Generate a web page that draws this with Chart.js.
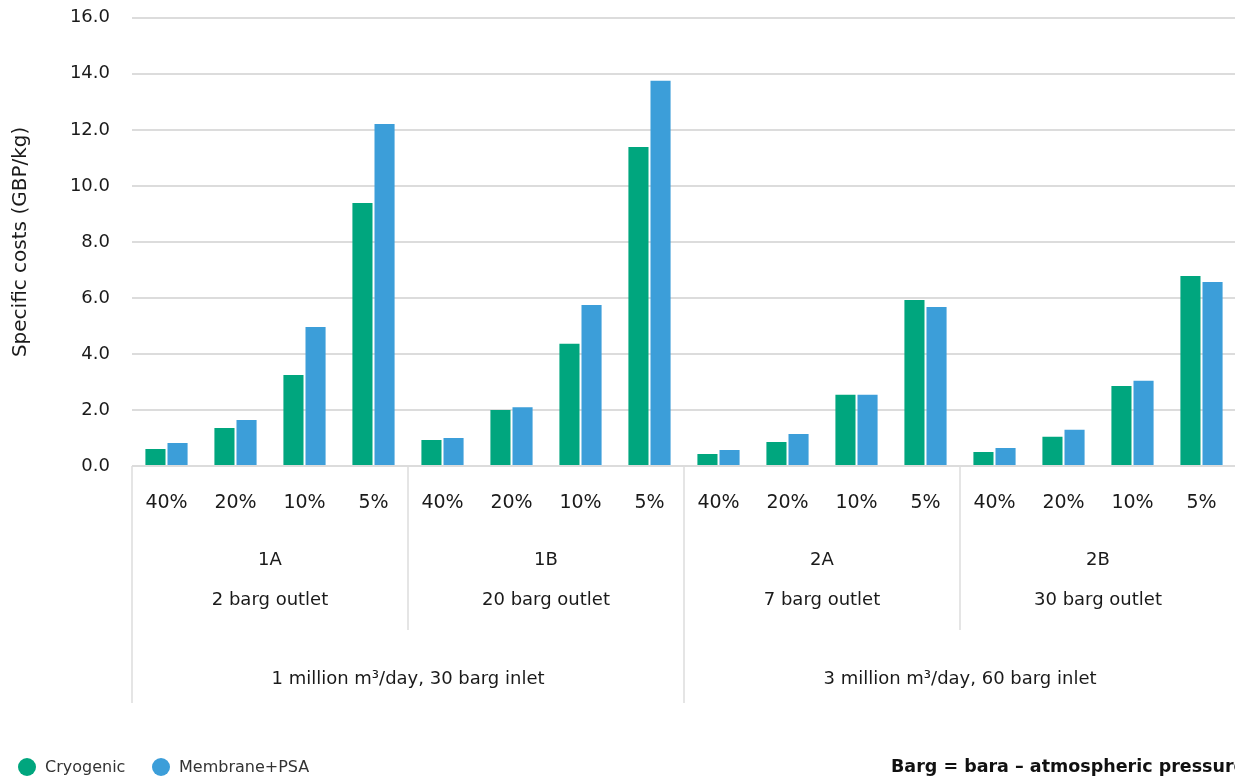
<!DOCTYPE html>
<html>
<head>
<meta charset="utf-8">
<script src="https://cdn.jsdelivr.net/npm/chart.js@4/dist/chart.umd.min.js"></script>
<style>
    html, body { margin: 0; padding: 0; background: #fff; overflow: hidden; }
    #wrap { width: 1236px; height: 778px; position: relative; }
</style>
</head>
<body>
<div id="wrap"><canvas id="chart"></canvas></div>
<script>
// categories
var shares = ['40%', '20%', '10%', '5%', '40%', '20%', '10%', '5%',
              '40%', '20%', '10%', '5%', '40%', '20%', '10%', '5%'];
var cases = ['1A', '1B', '2A', '2B'];
var outlets = ['2 barg outlet', '20 barg outlet', '7 barg outlet', '30 barg outlet'];
var inlets = ['1 million m\u00b3/day, 30 barg inlet', '3 million m\u00b3/day, 60 barg inlet'];

// series (GBP/kg)
var cryogenic = [0.61, 1.36, 3.25, 9.39, 0.93, 2.0, 4.36, 11.39,
                 0.43, 0.86, 2.54, 5.93, 0.5, 1.04, 2.86, 6.78];
var membranePsa = [0.82, 1.64, 4.96, 12.21, 1.0, 2.1, 5.75, 13.75,
                   0.57, 1.14, 2.54, 5.68, 0.64, 1.29, 3.04, 6.57];

var seriesNames = ['Cryogenic', 'Membrane+PSA'];
var seriesColors = ['#00a67e', '#3c9ed9'];
var note = 'Barg = bara \u2013 atmospheric pressure';

var FONT = '"DejaVu Sans", Arial, sans-serif';
var TEXT = '#1a1a1a';
var LINE = '#dcdcdc';
var CLEAR = 'rgba(0,0,0,0)';

/**
 * draws the grouped x labels, separators and legend
 */
var groupAxis = {
    id: 'groupAxis',
    afterDraw: function (chart) {
        var ctx = chart.ctx;
        var x = chart.scales.x;
        var bottom = chart.chartArea.bottom;
        var w = (x.right - x.left) / shares.length;
        var edge = function (i) { return x.left + i * w; };

        ctx.save();
        ctx.strokeStyle = LINE;
        ctx.lineWidth = 1.5;
        [0, 4, 8, 12, 16].forEach(function (i) {
            var end = (i % 8 === 0) ? 703 : 630;
            ctx.beginPath();
            ctx.moveTo(edge(i), bottom);
            ctx.lineTo(edge(i), end);
            ctx.stroke();
        });

        ctx.fillStyle = TEXT;
        ctx.textAlign = 'center';
        ctx.textBaseline = 'middle';
        ctx.font = '18px ' + FONT;
        cases.forEach(function (c, i) {
            var cx = (edge(i * 4) + edge(i * 4 + 4)) / 2;
            ctx.fillText(c, cx, 560);
            ctx.fillText(outlets[i], cx, 600);
        });
        inlets.forEach(function (t, i) {
            var cx = (edge(i * 8) + edge(i * 8 + 8)) / 2;
            ctx.fillText(t, cx, 679);
        });

        // legend
        ctx.textAlign = 'left';
        ctx.font = '16px ' + FONT;
        var lx = [27, 161];
        chart.data.datasets.forEach(function (ds, i) {
            ctx.fillStyle = ds.backgroundColor;
            ctx.beginPath();
            ctx.arc(lx[i], 767, 9, 0, Math.PI * 2);
            ctx.fill();
            ctx.fillStyle = '#333';
            ctx.fillText(ds.label, lx[i] + 18, 768);
        });

        ctx.fillStyle = '#111';
        ctx.font = 'bold 17.5px ' + FONT;
        ctx.fillText(note, 891, 767);
        ctx.restore();
    }
};

new Chart(document.getElementById('chart').getContext('2d'), {
    type: 'bar',
    data: {
        labels: shares,
        datasets: [
            {
                label: seriesNames[0],
                data: cryogenic,
                backgroundColor: seriesColors[0],
                categoryPercentage: 0.64,
                barPercentage: 0.91
            },
            {
                label: seriesNames[1],
                data: membranePsa,
                backgroundColor: seriesColors[1],
                categoryPercentage: 0.64,
                barPercentage: 0.91
            }
        ]
    },
    options: {
        responsive: true,
        maintainAspectRatio: false,
        animation: false,
        layout: { padding: 0 },
        plugins: {
            legend: { display: false },
            tooltip: { enabled: false }
        },
        scales: {
            x: {
                // invisible tick marks push the labels down without padding the chart edges
                grid: { color: CLEAR, tickColor: CLEAR, drawOnChartArea: false, tickLength: 20 },
                border: { display: false },
                ticks: {
                    color: TEXT,
                    font: { family: FONT, size: 19 },
                    padding: 6,
                    maxRotation: 0,
                    autoSkip: false
                },
                afterFit: function (s) { s.height = 312; }
            },
            y: {
                min: 0,
                max: 16,
                grid: { color: LINE, lineWidth: 2, tickColor: CLEAR, tickLength: 15 },
                border: { display: false },
                ticks: {
                    stepSize: 2,
                    color: TEXT,
                    font: { family: FONT, size: 18 },
                    padding: 7,
                    callback: function (v) { return v.toFixed(1); }
                },
                title: {
                    display: true,
                    text: 'Specific costs (GBP/kg)',
                    color: TEXT,
                    font: { family: FONT, size: 20 },
                    padding: { top: 9, bottom: 0 }
                },
                afterFit: function (s) { s.width = 132; }
            }
        }
    },
    plugins: [groupAxis]
});
</script>
</body>
</html>
